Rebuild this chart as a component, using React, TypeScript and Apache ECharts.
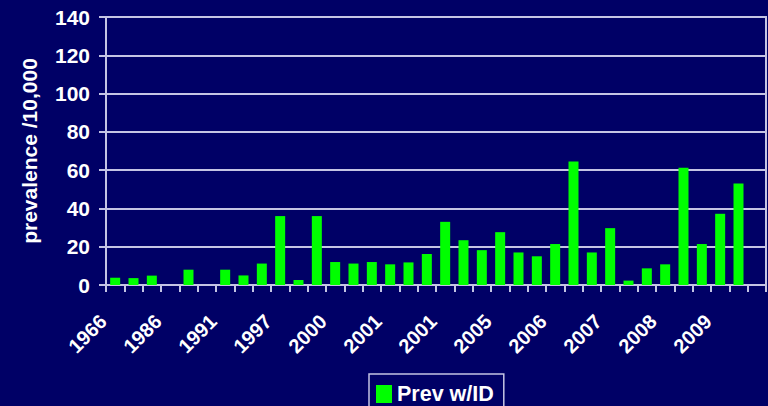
import React, { useEffect, useRef } from "react";
import * as echarts from "echarts";

const categories = [
  "1966", "1970", "1979", "1986", "1987", "1989", "1991", "1992", "1996",
  "1997", "1998", "1999", "2000", "2000", "2001", "2001", "2001", "2001",
  "2001", "2002", "2003", "2005", "2005", "2006", "2006", "2006", "2007",
  "2007", "2007", "2008", "2008", "2008", "2009", "2009", "2009", "2010",
];

const prevWithID: (number | null)[] = [
  3.8, 3.6, 4.9, null, 8, null, 8, 5, 11.2, 36, 2.6, 36,
  12, 11.2, 12, 10.8, 11.8, 16.2, 33, 23.4, 18.2, 27.6, 17, 15,
  21.4, 64.5, 17, 29.7, 2.3, 8.7, 10.8, 61.3, 21.4, 37.2, 53, null,
];

const yTicks = { min: 0, max: 140, interval: 20 };

const BG = "#000066";
const LINE = "#c4c4e4";
const TEXT = "#ffffff";
const FONT = "'Liberation Sans', Arial, sans-serif";

export default function App() {
  const ref = useRef<HTMLDivElement>(null);
  useEffect(() => {
    if (!ref.current) return;
    const chart = echarts.init(ref.current, null, { renderer: "svg" });
    chart.setOption({
      animation: false,
      backgroundColor: BG,
      grid: {
        left: 106,
        right: 2,
        top: 17,
        bottom: 121,
        show: true,
        borderColor: LINE,
        borderWidth: 2,
        backgroundColor: "transparent",
      },
      legend: {
        data: ["Prev w/ID"],
        left: 369,
        top: 374,
        padding: [9, 10, 9, 7],
        borderColor: LINE,
        borderWidth: 1.5,
        icon: "rect",
        itemWidth: 16,
        itemHeight: 18,
        itemGap: 5,
        textStyle: { color: TEXT, fontSize: 21.5, fontWeight: "bold", fontFamily: FONT },
      },
      xAxis: {
        type: "category",
        data: categories,
        axisLine: { lineStyle: { color: LINE, width: 2 } },
        axisTick: { show: true, interval: 0, length: 7, lineStyle: { color: LINE, width: 2 } },
        axisLabel: {
          interval: 2,
          rotate: 45,
          margin: 21,
          padding: [0, 17, 0, 0],
          color: TEXT,
          fontSize: 20,
          fontWeight: "bold",
          fontFamily: FONT,
        },
      },
      yAxis: {
        type: "value",
        min: yTicks.min,
        max: yTicks.max,
        interval: yTicks.interval,
        name: "prevalence /10,000",
        nameLocation: "middle",
        nameGap: 66,
        nameRotate: 90,
        nameTextStyle: { color: TEXT, fontSize: 21, fontWeight: "bold", fontFamily: FONT },
        axisLine: { show: true, lineStyle: { color: LINE, width: 2 } },
        axisTick: { show: true, length: 7, lineStyle: { color: LINE, width: 2 } },
        splitLine: { show: true, lineStyle: { color: LINE, width: 2 } },
        axisLabel: {
          color: TEXT,
          fontSize: 21,
          fontWeight: "bold",
          fontFamily: FONT,
          margin: 16,
        },
      },
      series: [
        {
          name: "Prev w/ID",
          type: "bar",
          data: prevWithID,
          barWidth: 10,
          itemStyle: { color: "#00ff00" },
        },
      ],
    });
    return () => chart.dispose();
  }, []);
  return (
    <div
      ref={ref}
      style={{ position: "absolute", left: 0, top: 0, width: 768, height: 406 }}
    />
  );
}
